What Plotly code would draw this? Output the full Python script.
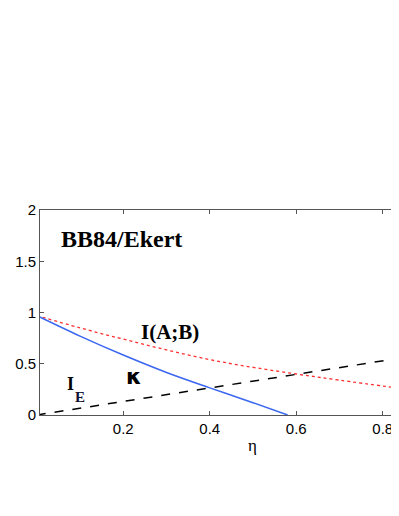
import plotly.graph_objects as go

# eta values and curves
eta_ab = [0.0, 0.1, 0.2, 0.3, 0.4, 0.5, 0.6, 0.7, 0.84]
I_AB = [0.97, 0.85, 0.74, 0.635, 0.54, 0.465, 0.40, 0.34, 0.26]

eta_k = [0.0, 0.1, 0.2, 0.3, 0.4, 0.5, 0.58]
kappa = [0.97, 0.77, 0.585, 0.415, 0.265, 0.12, 0.0]

eta_e = [0.0, 0.84]
I_E = [0.0, 0.555]

xticks = [0.2, 0.4, 0.6, 0.8]
yticks = [0, 0.5, 1, 1.5, 2]

fig = go.Figure()
fig.add_trace(go.Scatter(x=eta_ab, y=I_AB, mode="lines", line_shape="spline",
                         line=dict(color="#ff3030", width=1.3, dash="dot")))
fig.add_trace(go.Scatter(x=eta_k, y=kappa, mode="lines", line_shape="spline",
                         line=dict(color="#3a66f0", width=1.5)))
fig.add_trace(go.Scatter(x=eta_e, y=I_E, mode="lines",
                         line=dict(color="black", width=1.5, dash="dash")))

serif = "Liberation Serif"
fig.add_annotation(x=0.052, y=1.717, text="<b>BB84/Ekert</b>", showarrow=False,
                   xanchor="left", font=dict(family=serif, size=24, color="black"))
fig.add_annotation(x=0.237, y=0.81, text="<b>I(A;B)</b>", showarrow=False,
                   xanchor="left", font=dict(family=serif, size=21, color="black"))
fig.add_annotation(x=0.224, y=0.38, text="<b>κ</b>", showarrow=False,
                   xanchor="center", font=dict(family="DejaVu Sans", size=22, color="black"))
fig.add_annotation(x=0.078, y=0.307, text="<b>I</b>", showarrow=False,
                   xanchor="center", font=dict(family=serif, size=18, color="black"))
fig.add_annotation(x=0.099, y=0.18, text="<b>E</b>", showarrow=False,
                   xanchor="center", font=dict(family=serif, size=15, color="#101030"))
fig.add_annotation(x=0.593, y=-0.151, xref="paper", yref="paper", text="η", showarrow=False,
                   xanchor="center", yanchor="middle",
                   font=dict(family=serif, size=17, color="black"))

fig.update_xaxes(range=[0.0075, 0.8375], tickvals=xticks, ticktext=["0.2", "0.4", "0.6", "0.8"],
                 ticks="inside", ticklen=4, tickcolor="#555", showline=True, linecolor="#555",
                 mirror="ticks", showgrid=False, zeroline=False, automargin=False,
                 tickfont=dict(family="Liberation Sans", size=15, color="black"))
fig.update_yaxes(range=[0, 2], tickvals=yticks, ticktext=["0", "0.5", "1", "1.5", "2"],
                 ticks="inside", ticklen=4, tickcolor="#555", showline=True, linecolor="#555",
                 mirror=False, showgrid=False, zeroline=False, automargin=False,
                 tickfont=dict(family="Liberation Sans", size=15, color="black"))
fig.update_layout(width=391, height=480, showlegend=False,
                  margin=dict(l=32, r=0, t=202, b=73),
                  plot_bgcolor="white", paper_bgcolor="white")
fig.write_html("out.html")
